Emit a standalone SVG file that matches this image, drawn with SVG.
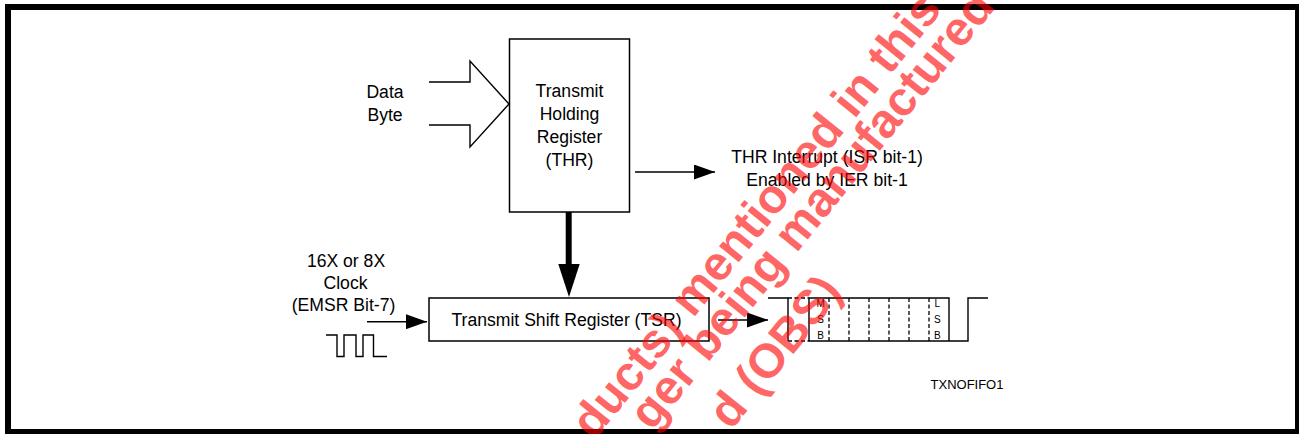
<svg xmlns="http://www.w3.org/2000/svg" width="1299" height="434" viewBox="0 0 1299 434">
<defs>
<style>
text{font-family:"Liberation Sans",Arial,sans-serif;fill:#000}
.t{font-size:17.6px;text-anchor:middle}
.s{font-size:10px;text-anchor:middle}
.box{fill:#fff;stroke:#000;stroke-width:1.5}
.ln{fill:none;stroke:#000;stroke-width:1.4}
.dash{fill:none;stroke:#000;stroke-width:1.3;stroke-dasharray:4 2.5}
.wm{font-family:"Liberation Sans",Arial,sans-serif;font-weight:bold;font-size:48px;fill:#ff0000;fill-opacity:0.62}
</style>
<marker id="ah" viewBox="0 0 21 15" refX="21" refY="7.5" markerWidth="21" markerHeight="15" markerUnits="userSpaceOnUse" orient="auto">
<path d="M0,0 L21,7.5 L0,15 Z" fill="#000"/>
</marker>
</defs>
<rect x="0" y="0" width="1299" height="434" fill="#fff"/>
<rect x="8" y="7" width="1290" height="425" fill="none" stroke="#000" stroke-width="6"/>

<g id="data-byte">
<path class="ln" d="M429,82 H470 V61 L509,104 L470,147 V125 H429"/>
<text class="t" x="385" y="98">Data</text>
<text class="t" x="385" y="121">Byte</text>
</g>

<g id="thr">
<rect class="box" x="509.5" y="39" width="120" height="173"/>
<text class="t" x="569.5" y="97.3">Transmit</text>
<text class="t" x="569.5" y="120.3">Holding</text>
<text class="t" x="569.5" y="143.3">Register</text>
<text class="t" x="569.5" y="166.3">(THR)</text>
</g>

<g id="thr-interrupt">
<text class="t" x="827" y="163.3">THR Interrupt (ISR bit-1)</text>
<text class="t" x="827" y="186">Enabled by IER bit-1</text>
</g>

<g id="clock">
<text class="t" x="346" y="266.7">16X or 8X</text>
<text class="t" x="345.5" y="289">Clock</text>
<text class="t" x="343.5" y="311">(EMSR Bit-7)</text>
<path class="ln" d="M326,335 H337 V356.5 H344 V335 H356 V356.5 H363 V335 H373.5 V356.5 H387"/>
</g>

<g id="tsr">
<rect class="box" x="429" y="298" width="280" height="43"/>
<text class="t" x="566.5" y="326">Transmit Shift Register (TSR)</text>
</g>

<g id="serial-frame">
<path class="ln" d="M768,298 H788 V341"/>
<path class="dash" d="M788,298 H809 M788,341 H809"/>
<path class="ln" d="M809,298 V341 M809,298 H949 V341 M809,341 H968 V298 H988"/>
<path class="dash" d="M829,298 V341 M849,298 V341 M869,298 V341 M889,298 V341 M909,298 V341 M929,298 V341"/>
<text class="s" x="820.7" y="307.3">M</text>
<text class="s" x="820.7" y="323.3">S</text>
<text class="s" x="820.7" y="338.6">B</text>
<text class="s" x="937.3" y="307.3">L</text>
<text class="s" x="937.3" y="323.3">S</text>
<text class="s" x="937.3" y="338.6">B</text>
</g>

<g id="label">
<text x="967" y="389" style="font-size:13px;text-anchor:middle">TXNOFIFO1</text>
</g>

<g id="connectors">
<path class="ln" d="M635,172 H715" marker-end="url(#ah)"/>
<path d="M568.7,212 V266" stroke="#000" stroke-width="6" fill="none"/>
<path d="M558.3,264 H579.7 L569,297 Z" fill="#000"/>
<path class="ln" d="M367,321.7 H427" marker-end="url(#ah)"/>
<path class="ln" d="M718,320 H768" marker-end="url(#ah)"/>
</g>

<g id="watermark">
<text class="wm" transform="translate(594,441) rotate(-51)">ducts) mentioned in this</text>
<text class="wm" transform="translate(652,432) rotate(-51)">ger being manufactured</text>
<text class="wm" transform="translate(731,431) rotate(-51)">d (OBS)</text>
</g>
</svg>
